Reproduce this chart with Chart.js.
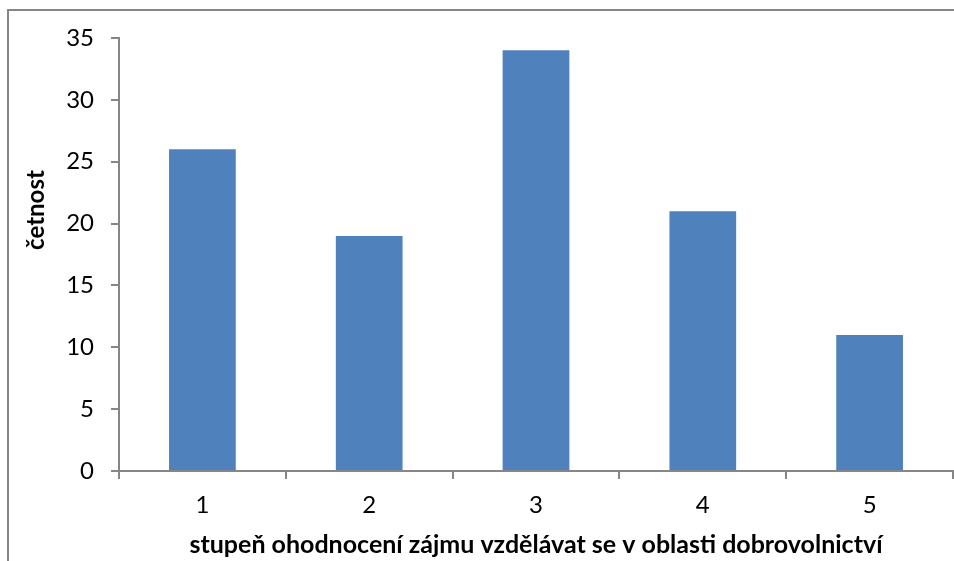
<!DOCTYPE html>
<html>
<head>
<meta charset="utf-8">
<script src="https://cdn.jsdelivr.net/npm/chart.js@4/dist/chart.umd.min.js"></script>
<style>
  html, body { margin: 0; padding: 0; background: #fff; }
  #wrap { width: 954px; height: 561px; position: relative; }
</style>
</head>
<body>
<div id="wrap"><canvas id="myGraphic" width="954" height="561"></canvas></div>
<script>
// data
var kategorie = ['1', '2', '3', '4', '5'];
var cetnost = [26, 19, 34, 21, 11];
var yTicks = [0, 5, 10, 15, 20, 25, 30, 35];

var seda = '#868686';
var pismo = 'Lato, "Open Sans", sans-serif';

// ramecek kolem grafu + popisek osy y (posunuty nahoru jako v originale)
var ramecek = {
    id: 'ramecek',
    beforeDraw: function (chart) {
        var c = chart.ctx;
        c.save();
        c.fillStyle = '#fff';
        c.fillRect(0, 0, chart.width, chart.height);
        c.strokeStyle = seda;
        c.lineWidth = 2;
        c.strokeRect(8, 10, chart.width + 20, chart.height + 20);
        c.restore();
    },
    afterDraw: function (chart) {
        var c = chart.ctx;
        c.save();
        c.translate(36, 210);
        c.rotate(-Math.PI / 2);
        c.font = 'bold 24px ' + pismo;
        c.fillStyle = '#000';
        c.textAlign = 'center';
        c.textBaseline = 'middle';
        c.fillText('četnost', 0, 0);
        c.restore();
    }
};

var myChart = new Chart('myGraphic', {
    type: 'bar',
    data: {
        labels: kategorie,
        datasets: [{
            label: 'četnost',
            backgroundColor: '#4F81BD',
            data: cetnost,
            categoryPercentage: 1,
            barPercentage: 0.4
        }]
    },
    options: {
        responsive: false,
        animation: false,
        layout: { padding: { top: 38, right: 1, left: 0, bottom: 0 } },
        plugins: {
            legend: { display: false },
            tooltip: { enabled: false }
        },
        scales: {
            x: {
                grid: { drawOnChartArea: false, drawTicks: true, tickLength: 8, color: seda, lineWidth: 2 },
                border: { color: seda, width: 2 },
                ticks: { color: '#000', padding: 12, font: { size: 24, family: pismo } },
                title: {
                    display: true,
                    text: 'stupeň ohodnocení zájmu vzdělávat se v oblasti dobrovolnictví',
                    color: '#000',
                    font: { size: 25, weight: 'bold', family: pismo },
                    padding: { top: 4, bottom: 1 }
                },
                afterFit: function (s) { s.height = 90; }
            },
            y: {
                min: 0,
                max: 35,
                afterBuildTicks: function (s) {
                    s.ticks = yTicks.map(function (v) { return { value: v }; });
                },
                grid: { drawOnChartArea: false, drawTicks: true, tickLength: 8, color: seda, lineWidth: 2 },
                border: { color: seda, width: 2 },
                ticks: { color: '#000', padding: 17, font: { size: 24, family: pismo } },
                afterFit: function (s) { s.width = 119; }
            }
        }
    },
    plugins: [ramecek]
});
</script>
</body>
</html>
